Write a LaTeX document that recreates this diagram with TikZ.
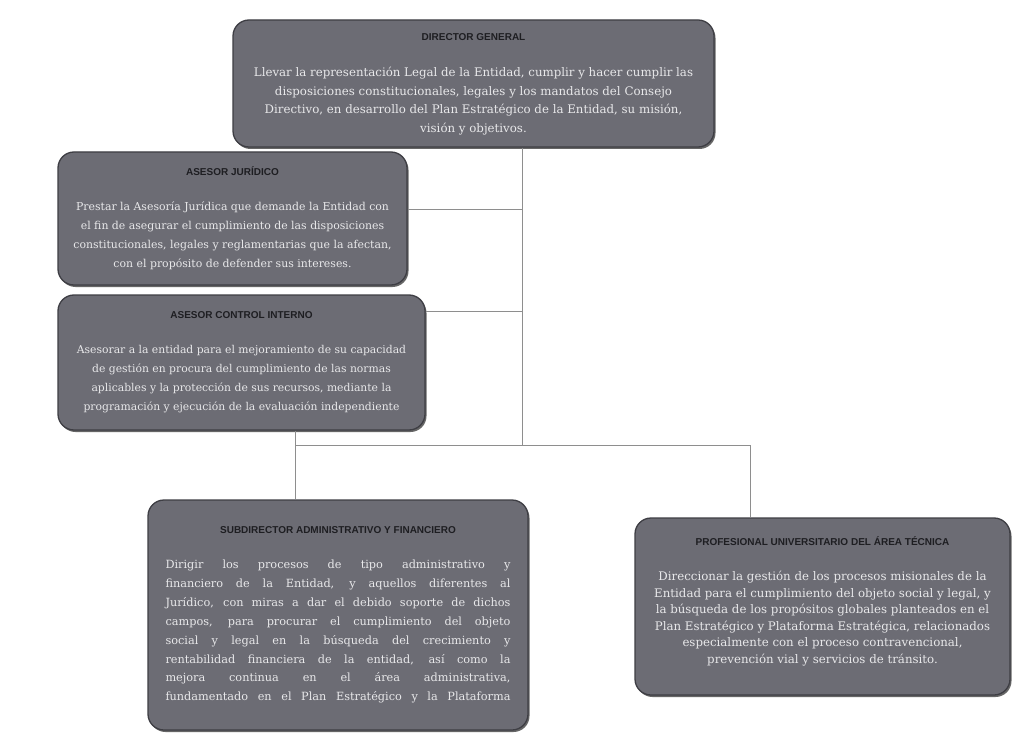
\documentclass[tikz,border=0pt]{standalone}
\usepackage{fontspec}
\setmainfont{DejaVu Serif}
\newfontfamily\hdrfont{Liberation Sans}
\usetikzlibrary{shadows,calc}
\definecolor{boxfill}{HTML}{6C6C74}
\definecolor{boxedge}{HTML}{3E3E44}
\definecolor{bodytxt}{HTML}{E8E8EA}
\definecolor{hdrtxt}{HTML}{1E1E22}
\definecolor{wire}{HTML}{8E8E8E}
\tikzset{
  orgbox/.style={rectangle, rounded corners=16pt, fill=boxfill, draw=boxedge, line width=1.3pt,
    drop shadow={shadow xshift=1.5pt, shadow yshift=-2pt, fill=black!75, opacity=.8},
    inner sep=0pt, align=center, text=bodytxt},
  wireline/.style={draw=wire, line width=1pt}
}
\newcommand{\hdr}[1]{{\hdrfont\bfseries\fontsize{10}{11}\selectfont\color{hdrtxt}#1}}
\newcommand{\jline}[1]{\makebox[345pt][s]{#1}}
\begin{document}
\begin{tikzpicture}[x=1pt,y=-1pt]
\useasboundingbox (0,0) rectangle (1014,735);
\fill[white] (0,0) rectangle (1014,735);

% Director General
\node[orgbox, minimum width=481pt, minimum height=127pt,
      font={\fontsize{11.8}{18.8}\selectfont}] (dir) at (473.5,83.5)
 {\hdr{DIRECTOR GENERAL}\\[17pt]
  Llevar la representación Legal de la Entidad, cumplir y hacer cumplir las\\
  disposiciones constitucionales, legales y los mandatos del Consejo\\
  Directivo, en desarrollo del Plan Estratégico de la Entidad, su misión,\\
  visión y objetivos.\\[-18pt]\mbox{}};

% Asesor Juridico
\node[orgbox, minimum width=349pt, minimum height=133pt,
      font={\fontsize{10.9}{19}\selectfont}] (jur) at (232.5,218.5)
 {\hdr{ASESOR JURÍDICO}\\[16pt]
  Prestar la Asesoría Jurídica que demande la Entidad con\\
  el fin de asegurar el cumplimiento de las disposiciones\\
  constitucionales, legales y reglamentarias que la afectan,\\
  con el propósito de defender sus intereses.};

% Asesor Control Interno
\node[orgbox, minimum width=367pt, minimum height=135pt,
      font={\fontsize{10.8}{19}\selectfont}] (ci) at (241.5,362.5)
 {\hdr{ASESOR CONTROL INTERNO}\\[16pt]
  Asesorar a la entidad para el mejoramiento de su capacidad\\
  de gestión en procura del cumplimiento de las normas\\
  aplicables y la protección de sus recursos, mediante la\\
  programación y ejecución de la evaluación independiente};

% Subdirector
\node[orgbox, minimum width=380pt, minimum height=230pt,
      font={\fontsize{11.3}{18.9}\selectfont}] (sub) at (338,615)
 {\hdr{SUBDIRECTOR ADMINISTRATIVO Y FINANCIERO}\\[16pt]
  \jline{Dirigir los procesos de tipo administrativo y}\\
  \jline{financiero de la Entidad, y aquellos diferentes al}\\
  \jline{Jurídico, con miras a dar el debido soporte de dichos}\\
  \jline{campos, para procurar el cumplimiento del objeto}\\
  \jline{social y legal en la búsqueda del crecimiento y}\\
  \jline{rentabilidad financiera de la entidad, así como la}\\
  \jline{mejora continua en el área administrativa,}\\
  \jline{fundamentado en el Plan Estratégico y la Plataforma}};

% Profesional
\node[orgbox, minimum width=375pt, minimum height=177pt,
      font={\fontsize{11.8}{16.6}\selectfont}] (prof) at (822.5,606.5)
 {\hdr{PROFESIONAL UNIVERSITARIO DEL ÁREA TÉCNICA}\\[18pt]
  Direccionar la gestión de los procesos misionales de la\\
  Entidad para el cumplimiento del objeto social y legal, y\\
  la búsqueda de los propósitos globales planteados en el\\
  Plan Estratégico y Plataforma Estratégica, relacionados\\
  especialmente con el proceso contravencional,\\
  prevención vial y servicios de tránsito.\\[-4pt]\mbox{}};

% connectors
\coordinate (t1) at (522,445);
\coordinate (bl) at (295,445);
\coordinate (br) at (750,445);
\draw[wireline] (dir.south -| t1) -- (t1);
\draw[wireline] ([yshift=8.5pt]jur.east) -- ([yshift=8.5pt]jur.east -| t1);
\draw[wireline] ([yshift=51.5pt]ci.east) -- ([yshift=51.5pt]ci.east -| t1);
\draw[wireline] (bl) -- (br);
\draw[wireline] (ci.south -| bl) -- (sub.north -| bl);
\draw[wireline] (br) -- (prof.north -| br);
\end{tikzpicture}
\end{document}
